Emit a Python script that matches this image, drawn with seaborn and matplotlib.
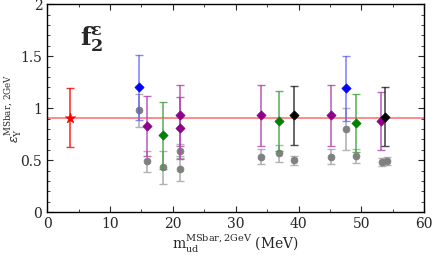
import matplotlib
matplotlib.use("Agg")
import matplotlib.pyplot as plt
import seaborn as sns
import pandas as pd
from matplotlib.ticker import MultipleLocator

# ---- data ----
blue_x = [14.6, 47.6]
blue_y = [1.20, 1.19]
blue_err = [0.31, 0.31]

purple_x = [15.9, 21.2, 21.2, 34.0, 45.1, 53.1]
purple_y = [0.83, 0.93, 0.81, 0.93, 0.93, 0.875]
purple_err = [0.29, 0.29, 0.30, 0.29, 0.29, 0.28]

green_x = [18.5, 36.8, 49.1]
green_y = [0.74, 0.88, 0.86]
green_err = [0.32, 0.29, 0.28]

black_x = [39.2, 53.8]
black_y = [0.93, 0.92]
black_err = [0.28, 0.28]

gray_x = [14.6, 15.9, 18.5, 21.2, 21.2, 34.0, 36.8, 39.2, 45.1, 47.6, 49.1, 53.2, 54.0]
gray_y = [0.98, 0.49, 0.43, 0.59, 0.42, 0.535, 0.565, 0.50, 0.535, 0.80, 0.54, 0.48, 0.49]
gray_err = [0.16, 0.10, 0.16, 0.07, 0.12, 0.075, 0.08, 0.045, 0.07, 0.20, 0.07, 0.04, 0.04]

red_x = [3.6]
red_y = [0.91]
red_err = [0.28]

line_y = 0.91

sns.set_theme(style="ticks")
plt.rcParams['font.family'] = ['DejaVu Serif']
plt.rcParams['mathtext.fontset'] = 'dejavuserif'

fig = plt.figure(figsize=(4.33, 2.61), dpi=100)
ax = fig.add_axes([0.109, 0.187, 0.871, 0.797])

ax.axhline(line_y, color='#ff5555', lw=1.2, alpha=0.8, zorder=1)

def draw(xs, ys, errs, color, marker, size, ecolor, ealpha, z):
    ax.errorbar(xs, ys, yerr=errs, fmt='none', ecolor=ecolor, elinewidth=1.2,
                capsize=3, capthick=1.0, alpha=ealpha, zorder=z)
    df = pd.DataFrame({'x': xs, 'y': ys})
    sns.scatterplot(data=df, x='x', y='y', ax=ax, color=color, marker=marker,
                    s=size, edgecolor=color, linewidth=0.5, zorder=z + 0.5, legend=False)

draw(gray_x, gray_y, gray_err, '#808080', 'o', 25, '#a0a0a0', 0.8, 2)
draw(blue_x, blue_y, blue_err, '#0000ff', 'D', 22, '#5555ff', 0.7, 3)
draw(purple_x, purple_y, purple_err, '#8b008b', 'D', 22, '#b040b0', 0.8, 3)
draw(green_x, green_y, green_err, '#008000', 'D', 22, '#40a040', 0.8, 3)
draw(black_x, black_y, black_err, '#000000', 'D', 22, '#202020', 0.8, 3)
draw(red_x, red_y, red_err, '#ff0000', '*', 60, '#ff0000', 0.8, 3)

ax.set_xlim(0, 60)
ax.set_ylim(0, 2)
ax.xaxis.set_major_locator(MultipleLocator(10))
ax.xaxis.set_minor_locator(MultipleLocator(5))
ax.yaxis.set_major_locator(MultipleLocator(0.5))
ax.yaxis.set_minor_locator(MultipleLocator(0.1))
ax.set_yticks([0, 0.5, 1, 1.5, 2])
ax.set_yticklabels(['0', '0.5', '1', '1.5', '2'])
ax.tick_params(which='both', direction='in', top=True, right=True, labelsize=10)
ax.tick_params(which='major', length=4, width=0.8)
ax.tick_params(which='minor', length=2, width=0.6)
for sp in ax.spines.values():
    sp.set_linewidth(1.0)
    sp.set_color('black')

ax.set_xlabel(r'$\mathrm{m}_{\mathrm{ud}}^{\mathrm{MSbar,2GeV}}$ (MeV)', fontsize=10, labelpad=1)
ax.set_ylabel(r'$\varepsilon_{\mathrm{Y}}^{\mathrm{MSbar,\,2GeV}}$', fontsize=9)
ax.yaxis.set_label_coords(-0.062, 0.5)
ax.text(5.2, 1.60, r'$\mathbf{f}_{\mathbf{2}}^{\boldsymbol{\varepsilon}}$', fontsize=18, fontweight='bold')

fig.savefig('out.png', dpi=100)
